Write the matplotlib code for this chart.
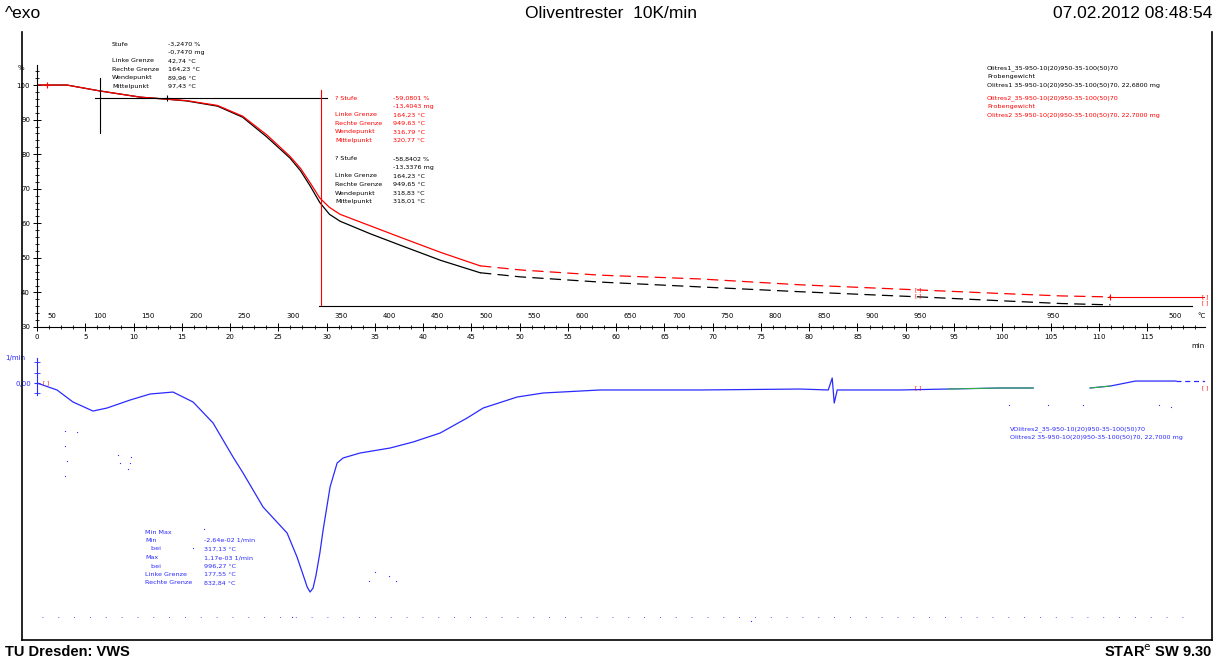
import numpy as np
import matplotlib.pyplot as plt
from matplotlib.lines import Line2D
from matplotlib.ticker import MultipleLocator

plt.rcParams.update({
    'font.family': 'DejaVu Sans',
    'font.size': 5,
    'axes.linewidth': 0.8,
})

W, H = 1216, 661

# TGA: Zeit (min) und Masse (%)
tga_time = [0, 3.1, 6.5, 10.7, 13.5, 15.5, 18.7, 21.3, 23.8, 26.2, 27.3, 28.3,
            29.3, 30.3, 31.4, 34.5, 37.6, 41.8, 45.9, 50.1, 58.3, 68.7, 79.1,
            91.5, 99.8, 106.0, 111.2]
tga_black = [100.0, 100.0, 98.3, 96.5, 95.9, 95.4, 93.9, 90.7, 85.0, 78.9, 75.2,
             70.8, 66.0, 62.6, 60.6, 57.0, 53.7, 49.3, 45.7, 44.5, 43.0, 41.6,
             40.2, 38.7, 37.6, 36.8, 36.4]
tga_red = [100.0, 100.0, 98.3, 96.5, 95.9, 95.5, 94.1, 91.0, 85.6, 79.4, 75.9,
           71.7, 67.3, 64.6, 62.6, 59.3, 56.0, 51.6, 47.7, 46.5, 45.0, 43.9,
           42.2, 40.7, 39.7, 39.0, 38.7]
dashed_from = 45.9

# DTG (1/min)
dtg_time = [0, 2.07, 3.73, 5.80, 7.25, 9.64, 11.71, 14.09, 16.17, 18.24, 20.31,
            21.35, 23.42, 25.91, 26.94, 27.56, 28.0, 28.29, 28.6, 28.9, 29.3,
            29.64, 30.36, 31.09, 31.71, 33.47, 36.58, 38.96, 41.76, 44.56, 46.22,
            49.74, 52.44, 58.34, 68.7, 79.07, 81.97, 82.38, 82.59, 82.9, 89.43,
            94.3, 99.79, 103.2, 106.0, 109.1, 111.2, 113.8, 118.0]
dtg_blue = [0, -0.00088, -0.0024, -0.00354, -0.00316, -0.00215, -0.00139,
            -0.00114, -0.0024, -0.00505, -0.00935, -0.01137, -0.01566, -0.01895,
            -0.02198, -0.0242, -0.0258, -0.0264, -0.0259, -0.0243, -0.0215,
            -0.01857, -0.01314, -0.01011, -0.00947, -0.00884, -0.00821, -0.00745,
            -0.00632, -0.00442, -0.00316, -0.00177, -0.00126, -0.00088, -0.00088,
            -0.00076, -0.00088, 0.00063, -0.00253, -0.00088, -0.00088, -0.00076,
            -0.00063, -0.00063, np.nan, -0.00063, -0.00038, 0.00025, 0.00025]
dtg_tail_time = [118.0, 121.0]
dtg_tail = [0.00025, 0.00025]
green_windows = [(0.5, 3.5), (13.5, 15.5), (94.0, 103.2), (109.1, 111.5)]

# Streupunkte der DTG-Aufzeichnung
noise_time = [2.9, 2.9, 3.1, 2.9, 4.1, 8.4, 8.6, 9.6, 9.4, 9.7, 16.2, 17.3,
              26.4, 34.4, 35.0, 36.5, 37.2, 74.0, 100.7, 104.7, 108.4, 116.2, 117.5]
noise_val = [-0.0060, -0.0079, -0.0098, -0.0117, -0.0062, -0.0091, -0.0101,
             -0.0101, -0.0108, -0.0094, -0.0208, -0.0184, -0.0295, -0.0250,
             -0.0239, -0.0244, -0.0250, -0.0300, -0.0028, -0.0028, -0.0028,
             -0.0028, -0.0030]
dot_row_val = -0.0296

temp_labels = [50, 100, 150, 200, 250, 300, 350, 400, 450, 500, 550, 600, 650,
               700, 750, 800, 850, 900, 950]
start_temp, heat_rate = 35, 10
extra_temp_labels = ['950', '500']
extra_temp_time = [105.3, 117.9]

# Auswertungen
step1_left, step1_level = 6.5, 96.2
step2_left, step2_level = 29.4, 36.1


def fx(px):
    return px / W


def fy(py):
    return 1 - py / H


fig = plt.figure(figsize=(W / 100, H / 100), dpi=100)

# ---- TGA ----
ax1 = fig.add_axes([fx(37), fy(327), fx(1168), 262 / H])
t = np.array(tga_time)
for y, c in [(tga_black, 'black'), (tga_red, 'red')]:
    y = np.array(y)
    solid = t <= dashed_from
    dash = t >= dashed_from
    ax1.plot(t[solid], y[solid], color=c, lw=0.9)
    ax1.plot(t[dash], y[dash], color=c, lw=0.9, dashes=(9, 5))

ax1.plot([step1_left - 0.5, 30.0], [step1_level, step1_level], color='black', lw=0.8)
ax1.plot([step1_left, step1_left], [86.1, 102.0], color='black', lw=0.8)
ax1.plot([step2_left, step2_left], [36.4, 98.7], color='red', lw=0.8)
ax1.plot([step2_left - 0.2, 119.7], [step2_level, step2_level], color='black', lw=0.8)
ax1.plot([111.2, 121.0], [38.7, 38.7], color='red', lw=0.8)
ax1.plot([1.0], [100.0], marker='+', color='red', ms=5, mew=0.8)
ax1.plot([13.5], [96.3], marker='+', color='black', ms=5, mew=0.8)
ax1.plot([111.2], [38.7], marker='+', color='red', ms=5, mew=0.8)
for tb, yb in [(91.3, 40.7), (91.3, 38.9), (121.0, 38.7), (121.0, 37.0)]:
    ax1.text(tb, yb, '[ ]', color='red', fontsize=4, ha='center', va='center')

ax1.set_xlim(0, 121)
ax1.set_ylim(30, 105.8)
for s in ['top', 'right']:
    ax1.spines[s].set_visible(False)
ax1.yaxis.set_major_locator(MultipleLocator(10))
ax1.yaxis.set_minor_locator(MultipleLocator(2))
ax1.xaxis.set_minor_locator(MultipleLocator(1.25))
ax1.set_xticks(np.arange(0, 120, 5))
ax1.tick_params(axis='both', which='major', direction='inout', length=6,
                width=0.7, labelsize=5, pad=2)
ax1.tick_params(axis='both', which='minor', direction='inout', length=3, width=0.6)
ax1.text(120.3, -0.06, 'min', transform=ax1.get_xaxis_transform(), fontsize=5,
         va='top', ha='center')
ax1.text(-1.3, 1.0, '%', transform=ax1.get_xaxis_transform(), fontsize=5,
         va='top', ha='right')

xt = ax1.get_xaxis_transform()
for T in temp_labels:
    ax1.text((T - start_temp) / heat_rate, 0.03, str(T), transform=xt,
             fontsize=5, ha='center', va='bottom')
for lab, tt in zip(extra_temp_labels, extra_temp_time):
    ax1.text(tt, 0.03, lab, transform=xt, fontsize=5, ha='center', va='bottom')
ax1.text(120.6, 0.03, '°C', transform=xt, fontsize=5, ha='center', va='bottom')

# ---- DTG ----
ax2 = fig.add_axes([fx(37), fy(640), fx(1168), 290 / H])
ax2.plot(dtg_time, dtg_blue, color='#2a2aff', lw=0.9)
ax2.plot(dtg_tail_time, dtg_tail, color='#2a2aff', lw=0.9, dashes=(4, 3))
dt = np.array(dtg_time)
dv = np.array(dtg_blue)
for a, b in green_windows:
    m = (dt >= a) & (dt <= b)
    ax2.plot(dt[m], dv[m], color='#33bb33', lw=0.7)
ax2.scatter(noise_time, noise_val, s=0.8, color='#2a2aff', lw=0)
ax2.plot([0.5, 120.0], [dot_row_val, dot_row_val], color='#2a2aff', lw=0.6,
         dashes=(1, 18))
for tb in [0.9, 91.3, 121.0]:
    ax2.text(tb, 0.0 if tb < 1 else -0.0006, '[ ]', color='red', fontsize=4,
             ha='center', va='center')

ax2.set_xlim(0, 121)
ax2.set_ylim(-0.03246, 0.00417)
for s in ['top', 'right', 'bottom']:
    ax2.spines[s].set_visible(False)
ax2.spines['left'].set_bounds(-0.00152, 0.00316)
ax2.spines['left'].set_color('#2a2aff')
ax2.set_xticks([])
ax2.set_yticks([0])
ax2.set_yticklabels(['0,00'])
ax2.set_yticks([-0.0013, 0.0013, 0.0026], minor=True)
ax2.tick_params(axis='y', which='both', direction='inout', length=4,
                color='#2a2aff', labelcolor='#2a2aff', labelsize=5, pad=2)
ax2.text(-1.2, 0.0031, '1/min', fontsize=5, color='#2a2aff', ha='right', va='center')

# ---- Texte ----
def block(x, y, rows, color, dy=8.5, x2=None):
    for i, r in enumerate(rows):
        if isinstance(r, tuple):
            fig.text(fx(x), fy(y + i * dy), r[0], color=color, fontsize=4.6, va='center')
            fig.text(fx(x2), fy(y + i * dy), r[1], color=color, fontsize=4.6, va='center')
        else:
            fig.text(fx(x), fy(y + i * dy), r, color=color, fontsize=4.6, va='center')


block(112, 44, [('Stufe', '-3,2470 %'), ('', '-0,7470 mg'),
                ('Linke Grenze', '42,74 °C'), ('Rechte Grenze', '164,23 °C'),
                ('Wendepunkt', '89,96 °C'), ('Mittelpunkt', '97,43 °C')],
      'black', x2=168)
block(335, 98, [('? Stufe', '-59,0801 %'), ('', '-13,4043 mg'),
                ('Linke Grenze', '164,23 °C'), ('Rechte Grenze', '949,63 °C'),
                ('Wendepunkt', '316,79 °C'), ('Mittelpunkt', '320,77 °C')],
      'red', x2=393)
block(335, 159, [('? Stufe', '-58,8402 %'), ('', '-13,3376 mg'),
                 ('Linke Grenze', '164,23 °C'), ('Rechte Grenze', '949,65 °C'),
                 ('Wendepunkt', '318,83 °C'), ('Mittelpunkt', '318,01 °C')],
      'black', x2=393)
block(987, 68, ['Olitres1_35-950-10(20)950-35-100(50)70', 'Probengewicht',
                'Olitres1 35-950-10(20)950-35-100(50)70, 22,6800 mg'], 'black')
block(987, 98, ['Olitres2_35-950-10(20)950-35-100(50)70', 'Probengewicht',
                'Olitres2 35-950-10(20)950-35-100(50)70, 22,7000 mg'], 'red')
block(1010, 429, ['VOlitres2_35-950-10(20)950-35-100(50)70',
                  'Olitres2 35-950-10(20)950-35-100(50)70, 22,7000 mg'], '#2a2aff')
block(145, 532, [('Min Max', ''), ('Min', '-2,64e-02 1/min'), ('   bei', '317,13 °C'),
                 ('Max', '1,17e-03 1/min'), ('   bei', '996,27 °C'),
                 ('Linke Grenze', '177,55 °C'), ('Rechte Grenze', '832,84 °C')],
      '#2a2aff', x2=204)

hdr = dict(fontsize=12.5, va='center', family='Liberation Sans')
fig.text(fx(5), fy(13), '^exo', **hdr)
fig.text(fx(611), fy(13), 'Oliventrester  10K/min', ha='center', **hdr)
fig.text(fx(1212), fy(13), '07.02.2012 08:48:54', ha='right', **hdr)
ftr = dict(fontsize=10.5, va='center', family='Liberation Sans', fontweight='bold')
fig.text(fx(5), fy(652), 'TU Dresden: VWS', **ftr)
fig.text(fx(1212), fy(652), r'STAR$^\mathrm{e}$ SW 9.30', ha='right', **ftr)

# Rahmen
fig.add_artist(Line2D([fx(22), fx(22)], [fy(32), fy(640)], color='black', lw=1.2))
fig.add_artist(Line2D([fx(22), fx(1212)], [fy(640), fy(640)], color='black', lw=1.2))
fig.add_artist(Line2D([fx(1212), fx(1212)], [fy(32), fy(640)], color='black', lw=1.2))

fig.savefig('out.png', dpi=100)
